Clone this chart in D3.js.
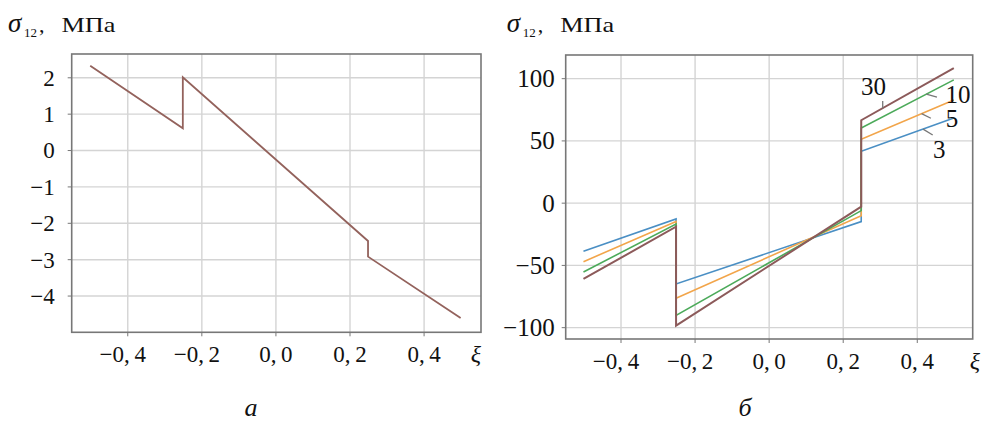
<!DOCTYPE html>
<html><head><meta charset="utf-8">
<script src="https://cdn.jsdelivr.net/npm/d3@7"></script>
<style>body{margin:0;background:#fff}</style></head>
<body>
<svg id="c" width="984" height="423"></svg>
<script>
// ---- data ----
const xiTicks = [-0.4, -0.2, 0, 0.2, 0.4];
const xiTickLabels = ["−0,4", "−0,2", "0,0", "0,2", "0,4"];
const leftYTicks = [2, 1, 0, -1, -2, -3, -4];
const leftYTickLabels = ["2", "1", "0", "−1", "−2", "−3", "−4"];
const rightYTicks = [100, 50, 0, -50, -100];
const rightYTickLabels = ["100", "50", "0", "−50", "−100"];

const xiLeft = [-0.5, -0.25, -0.25, 0.25, 0.25, 0.5];
const sigmaLeft = [2.32, 0.6, 2.0, -2.5, -2.93, -4.62];

const xiRight = [-0.5, -0.25, -0.25, 0.25, 0.25, 0.5];
const seriesNames = ["3", "5", "10", "30"];
const sigma3 = [-39.0, -13.1, -65.3, -15.2, 41.3, 68.0];
const sigma5 = [-47.4, -15.2, -76.8, -10.4, 50.9, 82.5];
const sigma10 = [-55.7, -17.1, -90.5, -6.4, 60.0, 98.6];
const sigma30 = [-61.3, -19.3, -98.8, -3.2, 66.2, 108.0];
const seriesValues = [sigma3, sigma5, sigma10, sigma30];

// label anchors (data units) and leader lines
const labelXi = [0.461, 0.495, 0.511, 0.283];
const labelSigma = [35.9, 60.8, 80.1, 86.5];
const leaderXi = [[0.417, 0.443], [0.413, 0.438], [0.4257, 0.4545], [0.308, 0.308]];
const leaderSigma = [[59.1, 54.4], [71.5, 67.8], [87.1, 84.7], [75.9, 81.6]];

// ---- styles ----
const seriesColors = ["#4a8fc4", "#f2a54a", "#4caa5a", "#8c5a5a"];
const leftColor = "#93625c";
const gridColor = "#d4d4d4";
const frameColor = "#777";
const FONT = '"Liberation Serif"';

const svg = d3.select("#c");
function txt(sel) { return sel.style("font-family", FONT).attr("fill", "#111"); }

function panel(cfg) {
  const x = d3.scaleLinear().domain(cfg.xDomain).range([cfg.left, cfg.right]);
  const y = d3.scaleLinear().domain(cfg.yDomain).range([cfg.bottom, cfg.top]);
  const g = svg.append("g");

  // grid
  const gx = g.append("g").attr("transform", `translate(0,${cfg.bottom})`)
    .call(d3.axisBottom(x).tickValues(xiTicks).tickSize(-(cfg.bottom - cfg.top)).tickFormat(""));
  const gy = g.append("g").attr("transform", `translate(${cfg.left},0)`)
    .call(d3.axisLeft(y).tickValues(cfg.yTicks).tickSize(-(cfg.right - cfg.left)).tickFormat(""));
  [gx, gy].forEach(a => {
    a.select(".domain").remove();
    a.selectAll("text").remove();
    a.selectAll("line").attr("stroke", gridColor).attr("stroke-width", 1.4);
  });

  // frame
  g.append("rect").attr("x", cfg.left).attr("y", cfg.top)
    .attr("width", cfg.right - cfg.left).attr("height", cfg.bottom - cfg.top)
    .attr("fill", "none").attr("stroke", frameColor).attr("stroke-width", 1.6);

  // x axis ticks + labels
  const ax = g.append("g").attr("transform", `translate(0,${cfg.bottom})`)
    .call(d3.axisBottom(x).tickValues(xiTicks).tickSize(4).tickPadding(0)
      .tickFormat((d, i) => xiTickLabels[i].replace(",", ",\u2009")));
  ax.select(".domain").remove();
  ax.selectAll("line").attr("stroke", frameColor);
  txt(ax.selectAll("text")).attr("font-size", cfg.xFont)
    .attr("y", 0).attr("dy", 0)
    .attr("transform", "translate(0,30)")
    .each(function (d, i) { if (xiTickLabels[i].startsWith("−")) d3.select(this).attr("dx", -5); });

  // y axis ticks + labels
  const ay = g.append("g").attr("transform", `translate(${cfg.left},0)`)
    .call(d3.axisLeft(y).tickValues(cfg.yTicks).tickSize(4).tickPadding(cfg.yPad)
      .tickFormat((d, i) => cfg.yLabels[i]));
  ay.select(".domain").remove();
  ay.selectAll("line").attr("stroke", frameColor);
  txt(ay.selectAll("text")).attr("font-size", cfg.yFont).attr("dy", "0.34em");

  // xi label
  txt(g.append("text")).attr("x", cfg.xiX).attr("y", cfg.bottom + 30)
    .attr("text-anchor", "middle").attr("font-style", "italic")
    .attr("font-size", 24).text("ξ");

  // title sigma_12, МПа
  const tx = cfg.titleX;
  txt(g.append("text")).attr("x", tx).attr("y", 32)
    .attr("font-style", "italic").attr("font-size", 27).text("σ");
  txt(g.append("text")).attr("x", tx + 16).attr("y", 37)
    .attr("font-size", 13).text("12");
  txt(g.append("text")).attr("x", tx + 31).attr("y", 32)
    .attr("font-size", 22).text(",");
  txt(g.append("text")).attr("x", tx + 53.5).attr("y", 32)
    .attr("font-size", 22)
    .attr("textLength", 54).attr("lengthAdjust", "spacingAndGlyphs").text("МПа");

  // caption
  txt(g.append("text")).attr("x", cfg.capX).attr("y", 416).attr("text-anchor", "middle")
    .attr("font-style", "italic").attr("font-size", 26).text(cfg.caption);

  return { x, y, g };
}

// ---- left panel ----
const L = panel({
  left: 71.7, right: 481, top: 54, bottom: 332.3,
  xDomain: [-0.55, 0.555], yDomain: [-5.01, 2.64],
  yTicks: leftYTicks, yLabels: leftYTickLabels,
  xFont: 23, yFont: 23, yPad: 13, xiX: 476, titleX: 8, capX: 251, caption: "а"
});
L.g.append("path")
  .datum(xiLeft.map((v, i) => [v, sigmaLeft[i]]))
  .attr("fill", "none").attr("stroke", leftColor).attr("stroke-width", 1.8)
  .attr("d", d3.line().x(d => L.x(d[0])).y(d => L.y(d[1])));

// ---- right panel ----
const R = panel({
  left: 565.7, right: 972.7, top: 55, bottom: 339,
  xDomain: [-0.548, 0.551], yDomain: [-109.5, 118.6],
  yTicks: rightYTicks, yLabels: rightYTickLabels,
  xFont: 23, yFont: 25, yPad: 7, xiX: 975, titleX: 506.7, capX: 745, caption: "б"
});
const line = d3.line().x(d => R.x(d[0])).y(d => R.y(d[1]));
seriesValues.forEach((vals, s) => {
  R.g.append("path")
    .datum(xiRight.map((v, i) => [v, vals[i]]))
    .attr("fill", "none").attr("stroke", seriesColors[s])
    .attr("stroke-width", s === 3 ? 2 : 1.6)
    .attr("d", line);
});
seriesNames.forEach((n, s) => {
  R.g.append("line")
    .attr("x1", R.x(leaderXi[s][0])).attr("x2", R.x(leaderXi[s][1]))
    .attr("y1", R.y(leaderSigma[s][0])).attr("y2", R.y(leaderSigma[s][1]))
    .attr("stroke", "#777").attr("stroke-width", 1.3);
  txt(R.g.append("text")).attr("x", R.x(labelXi[s])).attr("y", R.y(labelSigma[s]))
    .attr("text-anchor", "middle").attr("font-size", 25).text(n);
});
</script>
</body></html>
